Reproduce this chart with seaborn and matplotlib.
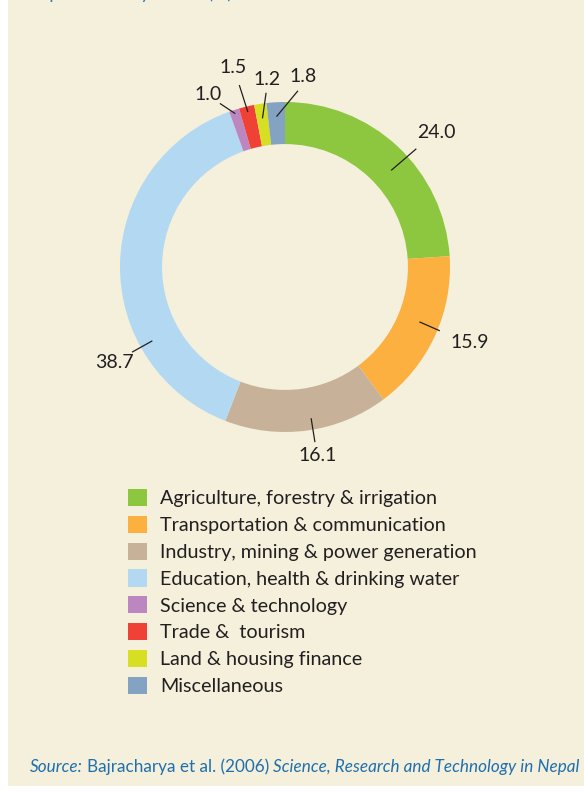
import matplotlib
matplotlib.use("Agg")
import matplotlib.pyplot as plt
import seaborn as sns
import numpy as np
from matplotlib.patches import Patch, Rectangle

# data (% share by sector)
sectors = ["Agriculture, forestry & irrigation",
           "Transportation & communication",
           "Industry, mining & power generation",
           "Education, health & drinking water",
           "Science & technology",
           "Trade &  tourism",
           "Land & housing finance",
           "Miscellaneous"]
shares = [24.0, 15.9, 16.1, 38.7, 1.0, 1.5, 1.2, 1.8]
share_labels = ["24.0", "15.9", "16.1", "38.7", "1.0", "1.5", "1.2", "1.8"]
colours = ["#8DC63F", "#FBB040", "#C7B299", "#B3D9F2",
           "#BC87C0", "#EF4136", "#D7DF23", "#84A3C2"]

# leader line layout: (angle in degrees, radius as fraction of outer radius)
# start angle None -> middle of the wedge
line_start_ang = [42.3, -22.2, -80.2, -150.9, None, None, None, None]
line_start_r = [0.87, 0.88, 0.93, 0.92, 0.977, 0.966, 0.911, 0.913]
line_end = [(42.0, 1.071), (-22.4, 1.015), (-80.3, 1.077), (-150.9, 1.061),
            (111.7, 1.067), (104.1, 1.137), (96.2, 1.062), (85.8, 1.071)]
text_pos = [(41.5, 1.226), (-22.1, 1.21), (-80.1, 1.162), (-150.7, 1.188),
            (114.1, 1.142), (104.6, 1.252), (95.5, 1.144), (84.6, 1.157)]

BG = "#F4F0DC"
INK = "#231F20"
BLUE = "#1F6FAE"

sns.set_theme(style="white")
plt.rcParams['font.family'] = ['Lato', 'DejaVu Sans']

W, H = 584, 793
fig = plt.figure(figsize=(W / 100, H / 100), dpi=100, facecolor="white")

# beige panel (behind everything)
fig.patches.append(Rectangle((8 / W, 7 / H), 1 - 8 / W, 1 - 7 / H,
                             transform=fig.transFigure, facecolor=BG,
                             edgecolor="none", zorder=-10))

# clipped heading at the very top
fig.text(30 / W, 1 + 1 / H, "Expenditure by sector (%)", color="#2F7DB5",
         fontsize=13, va="baseline", ha="left")

# donut: centre (285, 267) px, outer radius 165 px
cx, cy, R, half = 285, 267, 165, 250
ax = fig.add_axes([(cx - half) / W, (H - cy - half) / H, 2 * half / W, 2 * half / H])
ax.set_facecolor("none")
wedges, _ = ax.pie(shares, colors=colours, startangle=90, counterclock=False,
                   radius=1.0, wedgeprops=dict(width=0.255, linewidth=0))
lim = half / R
ax.set_xlim(-lim, lim)
ax.set_ylim(-lim, lim)
ax.set_aspect("equal")
ax.axis("off")

def polar(ang, r):
    a = np.deg2rad(ang)
    return r * np.cos(a), r * np.sin(a)

for i, w in enumerate(wedges):
    a0 = line_start_ang[i]
    if a0 is None:
        a0 = (w.theta1 + w.theta2) / 2
    x0, y0 = polar(a0, line_start_r[i])
    x1, y1 = polar(*line_end[i])
    ax.plot([x0, x1], [y0, y1], color=INK, lw=0.9, solid_capstyle="butt")
    tx, ty = polar(*text_pos[i])
    ax.text(tx, ty, share_labels[i], ha="center", va="center",
            fontsize=14, color=INK)

# legend
handles = [Patch(facecolor=c, edgecolor="none") for c in colours]
fig.legend(handles, sectors, loc="upper left",
           bbox_to_anchor=(128 / W, 1 - 489 / H), frameon=False,
           fontsize=14.2, handlelength=0.96, handleheight=0.96,
           handletextpad=0.66, labelspacing=0.43, borderpad=0,
           borderaxespad=0, labelcolor=INK)

# source line: italic / regular / italic pieces placed one after another
fig.canvas.draw()
renderer = fig.canvas.get_renderer()
x = 30 / W
y = 1 - 767 / H
pieces = [("Source:", "italic"), ("Bajracharya et al. (2006)", "normal"),
          ("Science, Research and Technology in Nepal", "italic")]
for txt, st in pieces:
    t = fig.text(x, y, txt, style=st, color=BLUE, fontsize=12.3,
                 ha="left", va="center")
    bb = t.get_window_extent(renderer=renderer)
    x = (bb.x1 + 4) / W

fig.savefig("out.png", dpi=100, facecolor=fig.get_facecolor())
